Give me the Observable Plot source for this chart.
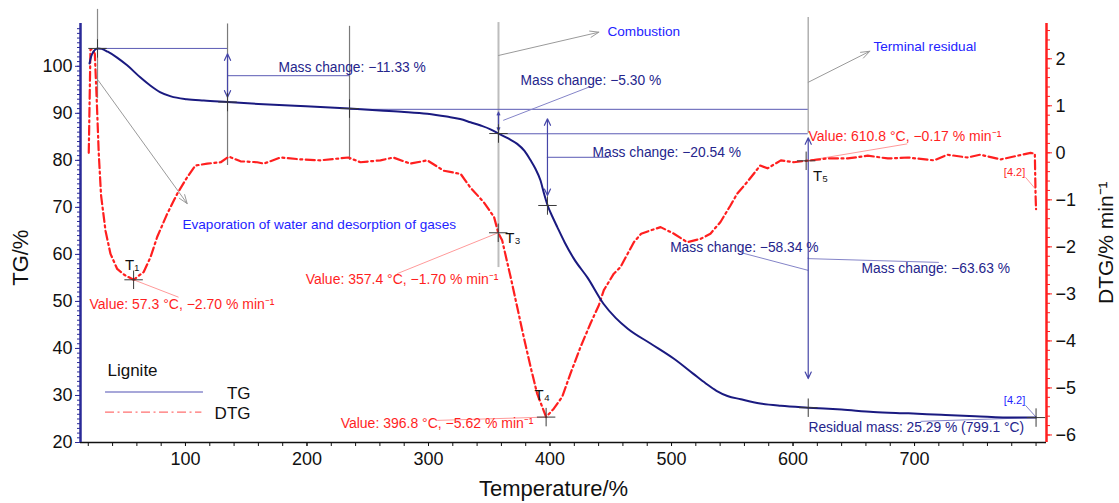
<!DOCTYPE html>
<html><head><meta charset="utf-8">
<script src="https://cdn.jsdelivr.net/npm/d3@7"></script>
<script src="https://cdn.jsdelivr.net/npm/@observablehq/plot@0.6"></script>
<style>body{margin:0;background:#fff}</style>
</head><body><div id="chart"></div>
<script>
// ---- data ----
const tgTemp = [21,22.5,24.5,27.6,31,36,44,52,63,71,79,88,101,115,134.6,160,190,215,235,260,280,299,315,326,334.6,343,351,357.6,366,373,379,384,388,392.2,395,398.2,402,406,412,419.6,431,444,454,464,483,502,518,528,537,546,557,573,590,612.5,640,666,695,722,750,782,800];
const tgMass = [100.6,102.2,103.2,103.8,103.7,103.1,101.8,100.2,97.6,95.9,94.5,93.6,93.0,92.7,92.4,92.0,91.6,91.3,91.0,90.6,90.3,89.9,89.3,88.8,88.1,87.4,86.6,85.7,84.6,83.5,82.0,80.0,78.2,75.7,73.0,70.3,68.0,65.8,62.6,59.1,55.0,49.5,46.5,44.2,41.0,37.8,34.6,32.6,31.0,29.9,29.2,28.3,27.8,27.4,27.0,26.5,26.2,25.9,25.6,25.3,25.3];
const dtgTemp = [20.4,21.8,23.5,25.4,27.0,28.6,30.5,34.2,38.3,43.8,50,57.3,65.7,71.2,76.7,84.9,93.2,101.4,108.2,117.9,129,135.6,145.3,159,164.5,178,195,211,234,244,260.5,271,285,299,312.5,326.5,334.5,345.5,354,357.4,360.6,367.5,373,378.4,384,389.4,396.8,403.1,410,416.9,425.1,433.3,440.2,444.3,452.5,458,469,475,482.8,491,502,512.9,524,532,540.3,548.5,554,562.3,573,579,590,600.5,610.8,628.5,645,661.5,678,694.5,716,727,743.5,754,771,785,795.5,799,799.6,800];
const dtgRate = [0,2.2,2.2,2.1,1.1,0,-0.9,-1.66,-2.15,-2.47,-2.6,-2.70,-2.53,-2.22,-1.79,-1.30,-0.87,-0.52,-0.27,-0.23,-0.20,-0.08,-0.18,-0.20,-0.23,-0.10,-0.14,-0.16,-0.10,-0.20,-0.16,-0.10,-0.23,-0.16,-0.38,-0.45,-0.74,-1.05,-1.37,-1.70,-1.86,-2.63,-3.28,-3.92,-4.55,-5.12,-5.62,-5.44,-5.19,-4.69,-4.13,-3.63,-3.24,-2.92,-2.57,-2.43,-1.90,-1.72,-1.65,-1.58,-1.72,-1.90,-1.83,-1.72,-1.47,-1.12,-0.87,-0.62,-0.27,-0.33,-0.16,-0.20,-0.17,-0.12,-0.12,-0.06,-0.12,-0.10,-0.16,-0.04,-0.10,-0.04,-0.14,-0.06,0.0,-0.02,-0.9,-1.2];

const xTicks = [100,200,300,400,500,600,700];
const yTicksTG = [20,30,40,50,60,70,80,90,100];
const yTicksDTG = [-6,-5,-4,-3,-2,-1,0,1,2];

// DTG shares the TG frame: DTG value d is drawn at TG-unit DTG_ZERO + DTG_UNIT*d
const DTG_ZERO = 81.6, DTG_UNIT = 10;
const dtgPos = d => DTG_ZERO + DTG_UNIT * d;

// ---- annotations (data units) ----
const tgPeaks = [[27.6,103.8],[134.6,92.4],[235,91.0],[357.6,85.7],[397.9,70.4],[612.5,27.4],[800,25.3]];
const dtgPeaks = [[57.3,-2.70],[357.4,-1.70],[396.8,-5.62],[610.8,-0.17]];
const peakNames = ["T₁","T₃","T₄","T₅"];
const peakNameAt = [[56.1,57.6],[369.5,63.4],[393.6,30.0],[622.6,76.6]];

const grayRules = [ {x:27.6,y1:112.1,y2:93.1,c:"#8a8a8a",w:1.2},{x:134.6,y1:109.0,y2:78.9,c:"#7a7a7a",w:1.2},{x:235,y1:108.5,y2:80.0,c:"#7a7a7a",w:1.2},{x:357.6,y1:109.3,y2:57.2,c:"#bdbdbd",w:2},{x:612.5,y1:110.4,y2:85.7,c:"#b0b0b0",w:1.5} ];
const grayArrows = [ {x1:28.2,y1:97.0,x2:101.4,y2:70.8},{x1:357.6,y1:102.3,x2:440.2,y2:107.25},{x1:612.5,y1:96.6,x2:663.2,y2:103.2} ];
const levelLines = [ {x1:27.6,x2:134.6,y:103.8},{x1:235,x2:612.5,y:90.85},{x1:357.6,x2:612.5,y:85.65},{x1:134.6,x2:235,y:98.0},{x1:397.9,x2:449,y:80.65} ];
const navyLinks = [ {x1:361.5,y1:88.5,x2:433.3,y2:95.7},{x1:556.8,y1:60.4,x2:612.5,y2:56.6},{x1:612.7,y1:59.1,x2:720,y2:58.3},{x1:704.9,y1:24.5,x2:800,y2:25.3},{x1:791.3,y1:27.9,x2:800,y2:25.4} ];
const doubleArrows = [ {x:134.6,top:102.65,bot:93.43},{x:357.6,top:90.25,bot:86.35},{x:397.9,top:88.85,bot:72.5},{x:612.5,top:84.8,bot:33.6} ];
const redLinks = [ {x1:57.3,y1:54.6,x2:94.3,y2:50.9},{x1:357.4,y1:64.6,x2:274.2,y2:55.9},{x1:396.8,y1:25.4,x2:307.2,y2:24.7},{x1:610.8,y1:79.9,x2:694,y2:83.5},{x1:791.3,y1:76.4,x2:799.5,y2:73.9} ];

const navyTexts = [
  {t:"Mass change: −11.33 %",x:176.5,y:99.7,a:"start"},
  {t:"Mass change: −5.30 %",x:375.7,y:97.0,a:"start"},
  {t:"Mass change: −20.54 %",x:435,y:81.7,a:"start"},
  {t:"Mass change: −58.34 %",x:621,y:61.5,a:"end"},
  {t:"Mass change: −63.63 %",x:656.4,y:57.0,a:"start"},
  {t:"Residual mass: 25.29 % (799.1 °C)",x:612.7,y:23.2,a:"start"}
];
const redTexts = [
  {t:"Value: 57.3 °C, −2.70 % min⁻¹",x:21.0,y:49.3,a:"start"},
  {t:"Value: 357.4 °C, −1.70 % min⁻¹",x:357.6,y:54.7,a:"end"},
  {t:"Value: 396.8 °C, −5.62 % min⁻¹",x:386.4,y:24.0,a:"end"},
  {t:"Value: 610.8 °C, −0.17 % min⁻¹",x:612.7,y:85.1,a:"start"}
];
const blueTexts = [
  {t:"Combustion",x:447.3,y:107.4},
  {t:"Terminal residual",x:666.2,y:104.2},
  {t:"Evaporation of water and desorption of gases",x:97.5,y:66.4}
];

const NAVY = "#1a1a80", AXNAVY = "#2a2a98", RED = "#ff1f1f", TXTNAVY = "#25258c", BLUE = "#2323ff";
const FONT = "'Liberation Sans', Arial, Helvetica, sans-serif";
const fmt = v => (v < 0 ? "−" + Math.abs(v) : String(v));

const tg = tgTemp.map((t,i) => ({t, v: tgMass[i]}));
const dtg = dtgTemp.map((t,i) => ({t, v: dtgPos(dtgRate[i])}));

const arrowHalves = doubleArrows.flatMap(a => {
  const m = (a.top + a.bot) / 2;
  return [{x:a.x,y1:m,y2:a.top},{x:a.x,y1:m,y2:a.bot}];
});

const anchored = (data, fill, fontSize) => ["start","end"].map(a =>
  Plot.text(data, {filter: d => d.a === a, x:"x", y:"y", text:"t", textAnchor:a, fill, fontSize}));

const chart = Plot.plot({
  width: 1119, height: 503,
  marginLeft: 80, marginRight: 73, marginTop: 23, marginBottom: 61,
  x: {domain: [13.6, 808.6], axis: null},
  y: {domain: [20, 109.1], axis: null},
  style: {fontFamily: FONT, background: "#fff", overflow: "visible"},
  marks: [
    // gray guide lines and arrows
    Plot.ruleX(grayRules, {x:"x", y1:"y1", y2:"y2", stroke:"c", strokeWidth:"w"}),
    Plot.arrow(grayArrows, {x1:"x1",y1:"y1",x2:"x2",y2:"y2", stroke:"#9a9a9a", strokeWidth:1, headLength:14, headAngle:40}),
    // mass-level lines
    Plot.ruleY(levelLines, {x1:"x1", x2:"x2", y:"y", stroke:"#5a5ab4", strokeWidth:1}),
    Plot.link(navyLinks, {x1:"x1",y1:"y1",x2:"x2",y2:"y2", stroke:"#8484c8", strokeWidth:1}),
    Plot.arrow(arrowHalves, {x1:"x",y1:"y1",x2:"x",y2:"y2", stroke:"#4646a8", strokeWidth:1.2, headLength:9, headAngle:50}),
    Plot.link(redLinks, {x1:"x1",y1:"y1",x2:"x2",y2:"y2", stroke:"#ff9a9a", strokeWidth:1}),
    // curves
    Plot.line(dtg, {x:"t", y:"v", stroke:RED, strokeWidth:2.2, strokeDasharray:"9,3.5,2,3.5"}),
    Plot.line(tg, {x:"t", y:"v", stroke:NAVY, strokeWidth:2, curve:"monotone-x"}),
    // markers
    Plot.dot(tgPeaks, {x:d=>d[0], y:d=>d[1], symbol:"plus", r:6, stroke:"#3a3a3a", strokeWidth:1}),
    Plot.dot(dtgPeaks, {x:d=>d[0], y:d=>dtgPos(d[1]), symbol:"plus", r:6, stroke:"#3a3a3a", strokeWidth:1}),
    Plot.text(peakNames, {x:(d,i)=>peakNameAt[i][0], y:(d,i)=>peakNameAt[i][1], text:d=>d, fontSize:15, fill:"#111"}),
    // annotation texts
    ...anchored(navyTexts, TXTNAVY, 13.8),
    ...anchored(redTexts, RED, 14),
    Plot.text(blueTexts, {x:"x", y:"y", text:"t", textAnchor:"start", fill:BLUE, fontSize:13.6}),
    Plot.text(["[4.2]"], {x:782.3, y:28.9, text:d=>d, fill:BLUE, fontSize:11}),
    Plot.text(["[4.2]"], {x:782.3, y:77.4, text:d=>d, fill:RED, fontSize:11}),
    // legend
    Plot.text(["Lignite"], {x:35.8, y:35.3, text:d=>d, textAnchor:"start", fontSize:17, fill:"#111"}),
    Plot.ruleY([30.74], {x1:34.2, x2:114.8, stroke:"#5050b4", strokeWidth:1.2}),
    Plot.ruleY([26.44], {x1:34.2, x2:113.5, stroke:"#ff7070", strokeWidth:1.2, strokeDasharray:"9,3.5,2,3.5"}),
    Plot.text(["TG"], {x:153.5, y:30.4, text:d=>d, textAnchor:"end", fontSize:17, fill:"#111"}),
    Plot.text(["DTG"], {x:153.5, y:26.2, text:d=>d, textAnchor:"end", fontSize:17, fill:"#111"}),
    // axes lines
    Plot.ruleY([20], {stroke:"#111", strokeWidth:1.5}),
    Plot.ruleX([13.6], {stroke:AXNAVY, strokeWidth:2.5}),
    Plot.ruleX([808.6], {stroke:RED, strokeWidth:2.5}),
    // bottom axis
    Plot.axisX(d3.range(20, 801, 20), {tickSize:4, stroke:"#111", tickFormat:()=>"", label:null}),
    Plot.axisX(xTicks, {tickSize:4, tickPadding:6, stroke:"#111", fill:"#111", fontSize:18, tickFormat:fmt, label:null}),
    // left axis
    Plot.axisY(d3.range(20, 109, 1), {anchor:"left", tickSize:3, stroke:AXNAVY, tickFormat:()=>"", label:null}),
    Plot.axisY(yTicksTG, {anchor:"left", tickSize:5, tickPadding:3, stroke:AXNAVY, fill:"#111", fontSize:18, tickFormat:fmt, label:null}),
    // right axis (DTG)
    Plot.axisY(d3.range(-30, 14, 1).map(k => dtgPos(k / 5)), {anchor:"right", tickSize:3, stroke:RED, tickFormat:()=>"", label:null}),
    Plot.axisY(yTicksDTG.map(dtgPos), {anchor:"right", tickSize:5, tickPadding:4, stroke:RED, fill:"#111", fontSize:18, tickFormat:v => fmt(Math.round((v - DTG_ZERO) / DTG_UNIT)), label:null}),
    // axis titles
    Plot.text(["TG/%"], {x:-35, y:59.3, text:d=>d, rotate:-90, fontSize:22, fill:"#111"}),
    Plot.text(["DTG/% min⁻¹"], {x:857.5, y:62.5, text:d=>d, rotate:-90, fontSize:21, fill:"#111"}),
    Plot.text(["Temperature/%"], {x:402.9, y:10.2, text:d=>d, fontSize:22, fill:"#111"})
  ]
});
document.getElementById("chart").appendChild(chart);
</script>
</body></html>
